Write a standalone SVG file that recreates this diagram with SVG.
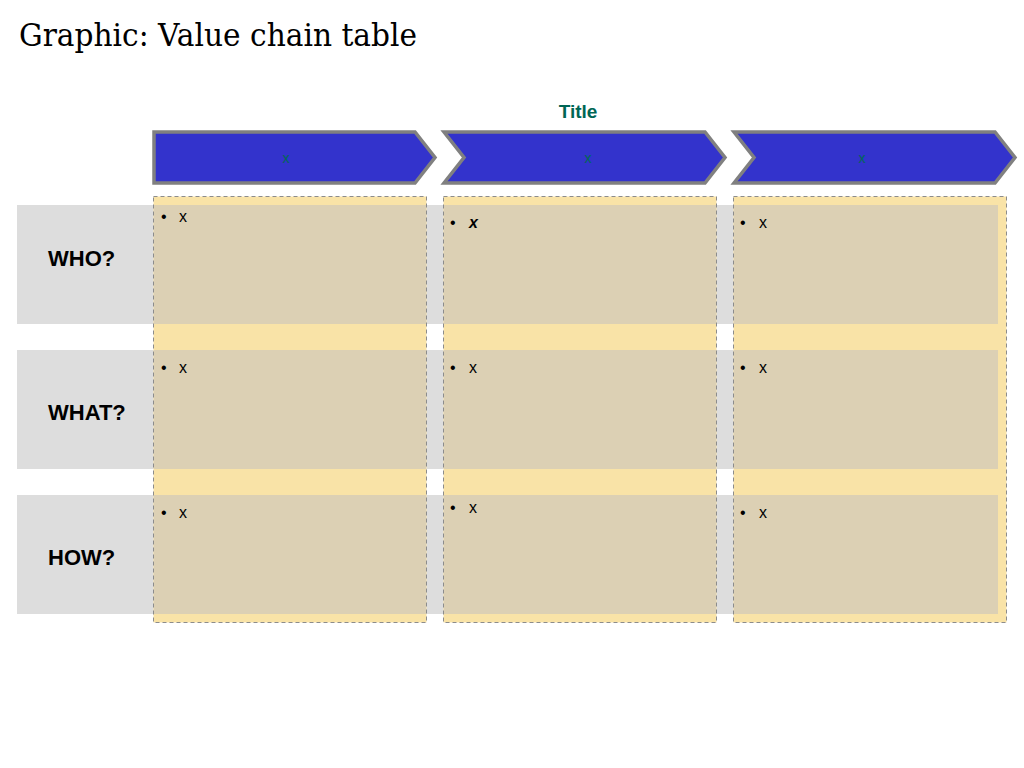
<svg xmlns="http://www.w3.org/2000/svg" width="1024" height="768" viewBox="0 0 1024 768">
<style>
.row{fill:#DDDDDD}
.col{fill:#F9E3A7;stroke:#8C8C8C;stroke-width:1;stroke-dasharray:4 3}
.cell{fill:#DCD0B4}
.chev{fill:#3333CC;stroke:#808080;stroke-width:3.5;stroke-linejoin:miter}
.lbl{font-family:"Liberation Sans",Arial,sans-serif;font-weight:bold;font-size:22px;fill:#000}
.bul{font-family:"Liberation Sans",Arial,sans-serif;font-size:16px;fill:#000}
.cx{font-family:"Liberation Sans",Arial,sans-serif;font-size:14px;fill:#006655;text-anchor:middle}
</style>
<rect width="1024" height="768" fill="#FFFFFF"/>
<text x="19" y="46" font-family="'DejaVu Serif','Liberation Serif',serif" font-size="31" fill="#000" textLength="398" lengthAdjust="spacingAndGlyphs">Graphic: Value chain table</text>
<text x="578" y="118" font-family="Liberation Sans,Arial,sans-serif" font-size="19" font-weight="bold" fill="#006655" text-anchor="middle">Title</text>

<g id="rows">
<rect class="row" x="17" y="205" width="981" height="119"/>
<rect class="row" x="17" y="350" width="981" height="119"/>
<rect class="row" x="17" y="495" width="981" height="119"/>
</g>

<g id="columns">
<rect class="col" x="153.5" y="196.5" width="273" height="426"/>
<rect class="col" x="443.5" y="196.5" width="273" height="426"/>
<rect class="col" x="733.5" y="196.5" width="273" height="426"/>
</g>

<g id="cells">
<rect class="cell" x="154" y="205" width="272" height="119"/>
<rect class="cell" x="444" y="205" width="272" height="119"/>
<rect class="cell" x="734" y="205" width="264" height="119"/>
<rect class="cell" x="154" y="350" width="272" height="119"/>
<rect class="cell" x="444" y="350" width="272" height="119"/>
<rect class="cell" x="734" y="350" width="264" height="119"/>
<rect class="cell" x="154" y="495" width="272" height="119"/>
<rect class="cell" x="444" y="495" width="272" height="119"/>
<rect class="cell" x="734" y="495" width="264" height="119"/>
</g>

<g id="chevron1">
<polygon class="chev" points="154,132 415,132 435,157.5 415,183 154,183"/>
<text class="cx" x="286" y="163">x</text>
</g>
<g id="chevron2">
<polygon class="chev" points="444,132 705,132 725,157.5 705,183 444,183 464,157.5"/>
<text class="cx" x="588" y="163">x</text>
</g>
<g id="chevron3">
<polygon class="chev" points="734,132 995,132 1015,157.5 995,183 734,183 754,157.5"/>
<text class="cx" x="862" y="163">x</text>
</g>

<g id="label-who"><text class="lbl" x="48" y="266">WHO?</text></g>
<g id="label-what"><text class="lbl" x="48" y="420">WHAT?</text></g>
<g id="label-how"><text class="lbl" x="48" y="565">HOW?</text></g>

<g id="bullets">
<text class="bul" x="161" y="222">•<tspan x="179">x</tspan></text>
<text class="bul" x="450" y="228">•<tspan x="469" font-weight="bold" font-style="italic">x</tspan></text>
<text class="bul" x="740" y="228">•<tspan x="759">x</tspan></text>
<text class="bul" x="161" y="373">•<tspan x="179">x</tspan></text>
<text class="bul" x="450" y="373">•<tspan x="469">x</tspan></text>
<text class="bul" x="740" y="373">•<tspan x="759">x</tspan></text>
<text class="bul" x="161" y="518">•<tspan x="179">x</tspan></text>
<text class="bul" x="450" y="513">•<tspan x="469">x</tspan></text>
<text class="bul" x="740" y="518">•<tspan x="759">x</tspan></text>
</g>
</svg>
